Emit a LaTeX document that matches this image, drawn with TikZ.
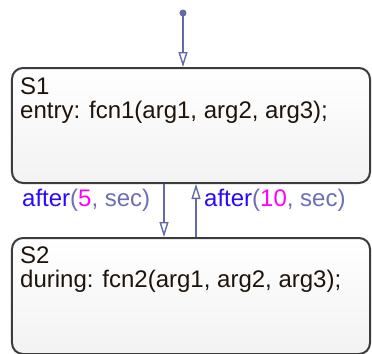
\documentclass[tikz,border=0pt]{standalone}
\usepackage{fontspec}
\setmainfont{Liberation Sans}
\usetikzlibrary{arrows.meta}
\definecolor{trans}{RGB}{98,106,168}
\definecolor{kwblue}{RGB}{40,10,255}
\definecolor{parcol}{RGB}{110,110,180}
\definecolor{numcol}{RGB}{255,0,255}
\definecolor{boxline}{RGB}{60,60,60}
\definecolor{txt}{RGB}{30,20,10}
\begin{document}
\begin{tikzpicture}[x=1bp,y=-1bp,
  statebox/.style={draw=boxline, line width=2bp, rounded corners=11bp,
    top color=white, bottom color=black!5, minimum width=358bp, inner sep=0pt},
  statetext/.style={anchor=base west, inner sep=0pt, text=txt,
    font=\fontsize{24bp}{28bp}\selectfont},
  lbl/.style={anchor=base west, inner sep=0pt,
    font=\fontsize{24bp}{28bp}\selectfont},
  trarrow/.style={draw=trans, line width=1.6bp,
    -{Triangle[open, length=15bp, width=9bp, line width=1.4bp]}}]
\useasboundingbox (0,0) rectangle (372,354);
\node[statebox, minimum height=115bp] (S1) at (191,125.5) {};
\node[statebox, minimum height=116bp] (S2) at (191,296) {};
\node[statetext] (s1name) at (20,94) {S1};
\node[statetext] (s1act) at (20,118) {entry: fcn1(arg1, arg2, arg3);};
\node[statetext] (s2name) at (20,263) {S2};
\node[statetext] (s2act) at (20,287) {during: fcn2(arg1, arg2, arg3);};
\coordinate (dot) at (183,13);
\fill[trans] (dot) circle (3.5bp);
\draw[trarrow] (dot) -- (dot |- S1.north);
\coordinate (t1) at (164,0);
\coordinate (t2) at (196,0);
\draw[trarrow] (t1 |- S1.south) -- (t1 |- S2.north);
\draw[trarrow] (t2 |- S2.north) -- (t2 |- S1.south);
\node[lbl] (l1) at (22,206) {\textcolor{kwblue}{after}\textcolor{parcol}{(}\textcolor{numcol}{5}\textcolor{parcol}{, sec)}};
\node[lbl] (l2) at (204,206) {\textcolor{kwblue}{after}\textcolor{parcol}{(}\textcolor{numcol}{10}\textcolor{parcol}{, sec)}};
\end{tikzpicture}
\end{document}
